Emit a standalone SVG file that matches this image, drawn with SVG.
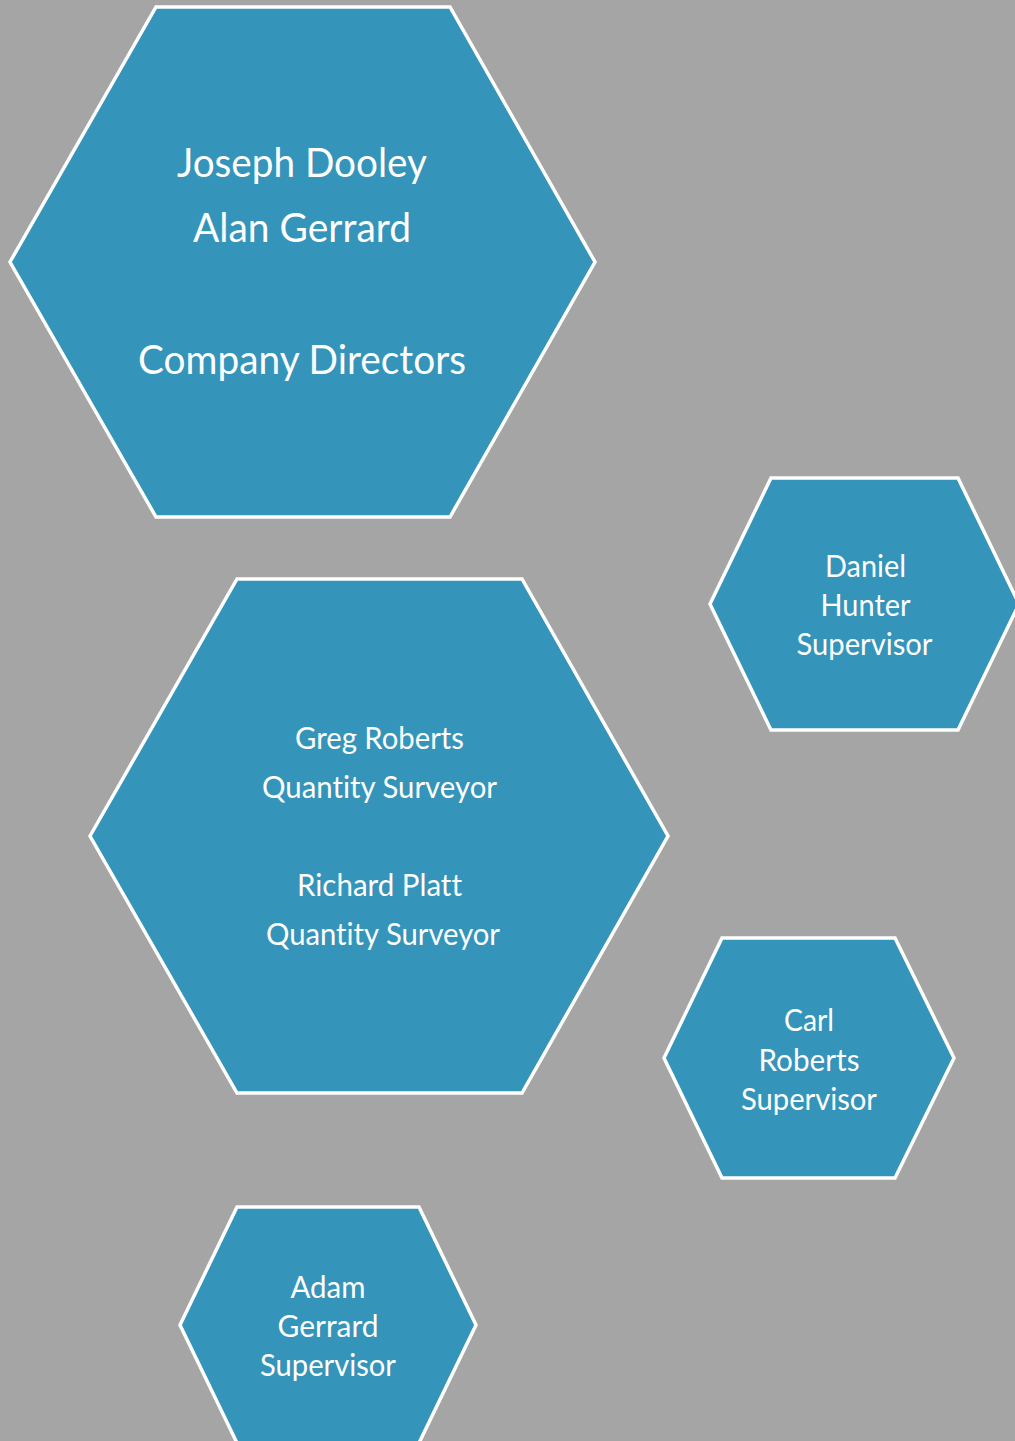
<svg xmlns="http://www.w3.org/2000/svg" width="1015" height="1441" viewBox="0 0 1015 1441">
<style>
.hex{fill:#3494BA;stroke:#FFFFFF;stroke-width:3.5;stroke-linejoin:miter}
.t{font-family:Lato,"Open Sans","Liberation Sans",sans-serif;fill:#FFFFFF;text-anchor:middle;font-variant-ligatures:none;font-feature-settings:"liga" 0}
.big{font-size:40px}
.mid{font-size:30px}
</style>
<rect x="0" y="0" width="1015" height="1441" fill="#A5A5A5"/>
<g id="connectors"></g>
<g id="node-directors">
<polygon class="hex" points="10,262 156,7 450,7 595,262 450,517 156,517"/>
<text class="t big" x="302" y="177" textLength="250" lengthAdjust="spacingAndGlyphs">Joseph Dooley</text>
<text class="t big" x="302" y="242" textLength="218" lengthAdjust="spacingAndGlyphs">Alan Gerrard</text>
<text class="t big" x="302" y="374" textLength="328" lengthAdjust="spacingAndGlyphs">Company Directors</text>
</g>
<g id="node-surveyors">
<polygon class="hex" points="90,836 237,579 522,579 668,836 522,1093 237,1093"/>
<text class="t mid" x="379.5" y="749" textLength="169" lengthAdjust="spacingAndGlyphs">Greg Roberts</text>
<text class="t mid" x="379.5" y="798" textLength="235" lengthAdjust="spacingAndGlyphs">Quantity Surveyor</text>
<text class="t mid" x="379.5" y="896" textLength="165" lengthAdjust="spacingAndGlyphs">Richard Platt</text>
<text class="t mid" x="383" y="945" textLength="234" lengthAdjust="spacingAndGlyphs">Quantity Surveyor</text>
</g>
<g id="node-daniel">
<polygon class="hex" points="710,604 771,478 958,478 1019,604 958,730 771,730"/>
<text class="t mid" x="865.5" y="577" textLength="81" lengthAdjust="spacingAndGlyphs">Daniel</text>
<text class="t mid" x="865.5" y="616" textLength="90" lengthAdjust="spacingAndGlyphs">Hunter</text>
<text class="t mid" x="864.5" y="655" textLength="136" lengthAdjust="spacingAndGlyphs">Supervisor</text>
</g>
<g id="node-carl">
<polygon class="hex" points="664,1058 722,938 895,938 954,1058 895,1178 722,1178"/>
<text class="t mid" x="809" y="1031" textLength="50" lengthAdjust="spacingAndGlyphs">Carl</text>
<text class="t mid" x="809" y="1071" textLength="101" lengthAdjust="spacingAndGlyphs">Roberts</text>
<text class="t mid" x="809" y="1110" textLength="136" lengthAdjust="spacingAndGlyphs">Supervisor</text>
</g>
<g id="node-adam">
<polygon class="hex" points="180,1325 237,1207 419,1207 476,1325 419,1443 237,1443"/>
<text class="t mid" x="328" y="1298" textLength="75" lengthAdjust="spacingAndGlyphs">Adam</text>
<text class="t mid" x="328" y="1337" textLength="101" lengthAdjust="spacingAndGlyphs">Gerrard</text>
<text class="t mid" x="328" y="1376" textLength="136" lengthAdjust="spacingAndGlyphs">Supervisor</text>
</g>
</svg>
